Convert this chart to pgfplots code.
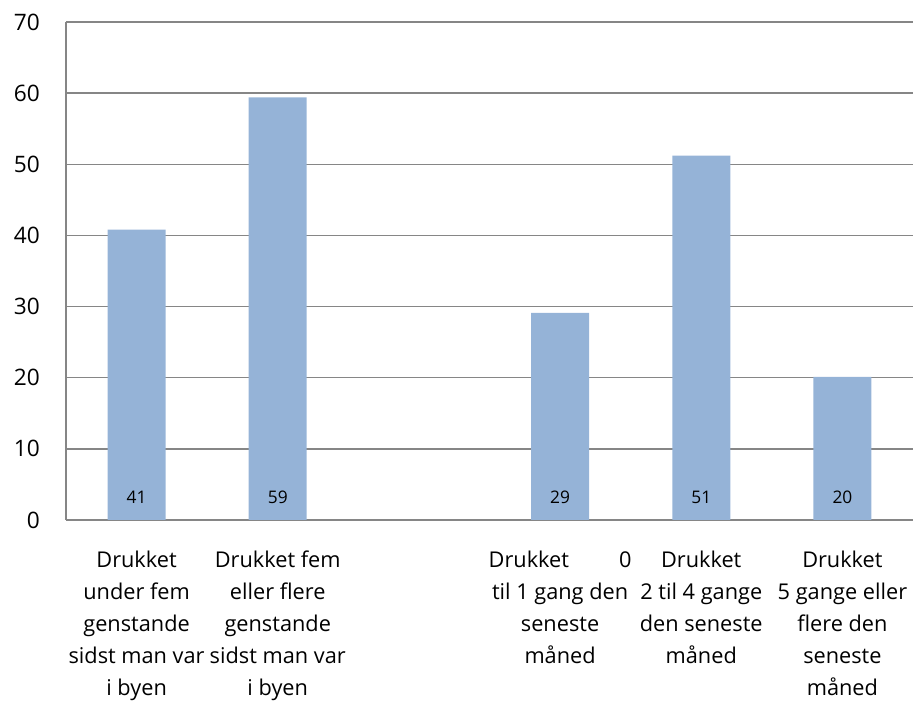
\documentclass[border=0pt]{standalone}
\usepackage{pgfplots}
\pgfplotsset{compat=1.18}
\usepackage{fontspec}
\setmainfont{Open Sans}
\definecolor{barblue}{HTML}{95B3D7}
\definecolor{gridgray}{HTML}{868686}
\begin{document}
\begin{tikzpicture}
\useasboundingbox (-49.5pt,-136.5pt) rectangle (639pt,390pt);
\begin{axis}[
  at={(0,0)}, anchor=south west,
  scale only axis,
  width=635.25pt, height=373.5pt,
  xmin=-0.5, xmax=5.5,
  ymin=0, ymax=70,
  ytick={0,10,...,70},
  xtick={0,1,3,4,5},
  xticklabels={
    {Drukket\\under fem\\genstande\\sidst man var\\i byen},
    {Drukket fem\\eller flere\\genstande\\sidst man var\\i byen},
    {Drukket\hspace{2.3em}0\\til 1 gang den\\seneste\\måned},
    {Drukket\\2 til 4 gange\\den seneste\\måned},
    {Drukket\\5 gange eller\\flere den\\seneste\\måned}},
  major tick length=0pt,
  ymajorgrids,
  grid style={gridgray, line width=1pt},
  axis line style={gridgray, line width=1pt},
  axis x line*=bottom,
  axis y line*=left,
  /pgf/number format/assume math mode=true,
  yticklabel style={anchor=east, inner sep=0pt, xshift=-19.5pt, font=\fontsize{17}{20}\selectfont},
  xticklabel style={anchor=north, inner sep=0pt, yshift=-23pt, align=center, font=\fontsize{16.3}{24}\selectfont},
  clip=false,
]
\addplot[ybar, bar width=43.5pt, bar shift=0pt, fill=barblue, draw=none]
  coordinates {(0,40.8) (1,59.4) (3,29.1) (4,51.2) (5,20.1)};
\addplot[draw=none, mark=none, nodes near coords, point meta=explicit,
  every node near coord/.style={anchor=center, font=\fontsize{13}{15}\selectfont, text=black}]
  coordinates {(0,3.2) [41] (1,3.2) [59] (3,3.2) [29] (4,3.2) [51] (5,3.2) [20]};
\end{axis}
\end{tikzpicture}
\end{document}
